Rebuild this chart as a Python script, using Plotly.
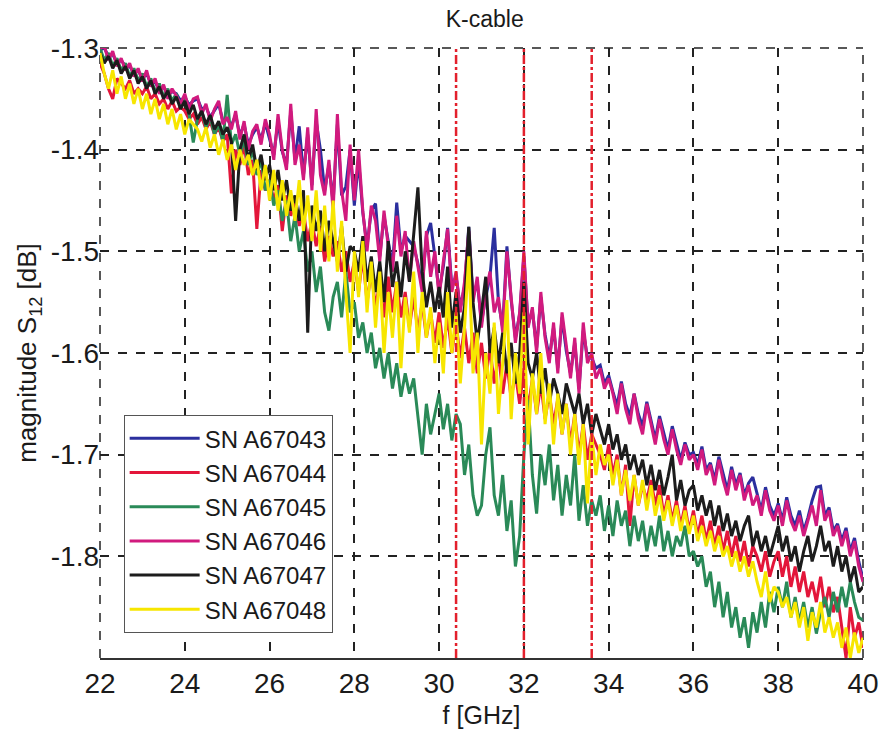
import plotly.graph_objects as go

# frequency axis: 22.0 ... 40.0 GHz in 0.1 GHz steps
freq = [round(22 + 0.1 * i, 1) for i in range(181)]

# magnitude S12 values, in milli-dB (positive = loss)
sn_a67043_mdb = [
    1302, 1300, 1308, 1306, 1315, 1312, 1318, 1318, 1325, 1322,
    1330, 1325, 1335, 1333, 1342, 1338, 1346, 1343, 1345, 1352,
    1348, 1356, 1352, 1350, 1360, 1358, 1368, 1362, 1355, 1372,
    1370, 1376, 1366, 1386, 1375, 1395, 1385, 1378, 1390, 1374,
    1390, 1405, 1372, 1402, 1415, 1362, 1410, 1377, 1425, 1385,
    1435, 1372, 1400, 1440, 1415, 1452, 1375, 1445, 1436, 1400,
    1455, 1410, 1462, 1495, 1460, 1453, 1505, 1465, 1490, 1515,
    1452, 1500, 1485, 1490, 1495, 1512, 1535, 1485, 1472, 1505,
    1540, 1515, 1477, 1535, 1525, 1555, 1535, 1476, 1545, 1530,
    1570, 1545, 1525, 1477, 1550, 1575, 1495, 1548, 1585, 1562,
    1505, 1572, 1558, 1595, 1545, 1582, 1605, 1575, 1615, 1565,
    1598, 1620, 1590, 1635, 1578, 1605, 1605, 1615, 1612, 1630,
    1622, 1638, 1652, 1628, 1650, 1662, 1640, 1660, 1672, 1648,
    1668, 1685, 1662, 1680, 1695, 1672, 1690, 1705, 1688, 1700,
    1698, 1710, 1692, 1715, 1708, 1725, 1702, 1720, 1735, 1712,
    1730, 1718, 1740, 1728, 1722, 1738, 1755, 1732, 1750, 1760,
    1748, 1765, 1742, 1760, 1770, 1755, 1775, 1762, 1745, 1732,
    1731, 1760, 1752, 1775, 1768, 1785, 1772, 1795, 1782, 1805,
    1822,
]
sn_a67044_mdb = [
    1315, 1325, 1340, 1350, 1330, 1335, 1340, 1332, 1345, 1340,
    1345, 1338, 1350, 1345, 1355, 1350, 1360, 1352, 1362, 1358,
    1362, 1370, 1365, 1375, 1368, 1380, 1372, 1385, 1378, 1392,
    1385, 1443, 1400, 1415, 1395, 1425, 1410, 1478, 1420, 1440,
    1430, 1450, 1435, 1480, 1445, 1465, 1450, 1475, 1460, 1490,
    1470, 1495, 1475, 1510, 1485, 1505, 1490, 1520, 1500, 1530,
    1510, 1540, 1505, 1550, 1520, 1555, 1530, 1565, 1525, 1560,
    1530, 1565, 1540, 1575, 1545, 1580, 1550, 1585, 1560, 1590,
    1560, 1595, 1565, 1600, 1570, 1605, 1575, 1610, 1580, 1620,
    1590, 1625, 1595, 1630, 1600, 1640, 1610, 1645, 1620, 1650,
    1615, 1655, 1625, 1660, 1630, 1665, 1640, 1670, 1645, 1680,
    1650, 1690, 1660, 1700, 1670, 1705, 1680, 1690, 1700, 1715,
    1690, 1720, 1700, 1740, 1710, 1770, 1720, 1750, 1730, 1745,
    1725, 1750, 1730, 1760, 1740, 1765, 1745, 1770, 1750, 1775,
    1755, 1780, 1760, 1785, 1765, 1790, 1770, 1795, 1775, 1800,
    1780, 1805, 1785, 1810, 1790, 1800, 1815, 1795, 1820, 1805,
    1795, 1820, 1800, 1830, 1810, 1835, 1815, 1840, 1825, 1845,
    1820, 1850, 1830, 1855, 1840, 1870, 1900, 1850, 1880, 1865,
    1890,
]
sn_a67045_mdb = [
    1300, 1312, 1305, 1318, 1310, 1322, 1315, 1328, 1320, 1332,
    1325, 1338, 1330, 1343, 1335, 1348, 1340, 1352, 1345, 1358,
    1350, 1365, 1393, 1370, 1362, 1378, 1368, 1385, 1375, 1392,
    1346, 1395, 1385, 1405, 1390, 1415, 1400, 1425, 1410, 1440,
    1430, 1455, 1440, 1470, 1450, 1490, 1465, 1500, 1480, 1520,
    1500, 1540, 1515, 1560, 1578, 1545, 1530, 1565, 1520, 1560,
    1550, 1585, 1570, 1600, 1580, 1615, 1595, 1625, 1600, 1635,
    1610, 1643, 1620, 1640, 1625, 1660, 1700, 1650, 1680, 1660,
    1640, 1675, 1650, 1686, 1660, 1670, 1720, 1690, 1740, 1760,
    1750, 1700, 1673, 1740, 1760, 1720, 1775, 1745, 1810, 1780,
    1700, 1646, 1720, 1758, 1700, 1730, 1690, 1745, 1710, 1760,
    1720, 1750, 1700, 1765, 1730, 1770, 1745, 1760, 1740, 1775,
    1750, 1780, 1745, 1770, 1755, 1790, 1760, 1785, 1765, 1795,
    1770, 1790, 1760, 1795, 1775, 1800, 1780, 1790, 1770, 1800,
    1795, 1810, 1800, 1830, 1815, 1850, 1825, 1860, 1835, 1870,
    1850, 1880, 1860, 1890, 1855, 1875, 1845, 1870, 1835, 1855,
    1830, 1850, 1825, 1860, 1840, 1865, 1845, 1870, 1850, 1876,
    1855, 1840, 1860, 1835, 1855, 1830, 1850, 1825, 1845, 1860,
    1863,
]
sn_a67046_mdb = [
    1300, 1298, 1312, 1303, 1318, 1310, 1322, 1315, 1328, 1320,
    1333, 1322, 1338, 1330, 1345, 1336, 1350, 1340, 1347, 1355,
    1345, 1360, 1350, 1348, 1365, 1355, 1372, 1360, 1352, 1375,
    1368, 1380, 1362, 1390, 1372, 1400, 1382, 1375, 1395, 1370,
    1385, 1410, 1365, 1400, 1420, 1355, 1415, 1395, 1430, 1378,
    1440, 1360, 1425, 1445, 1410, 1460, 1365, 1440, 1470, 1395,
    1450, 1400, 1460, 1500, 1455, 1470, 1510, 1460, 1495, 1520,
    1465, 1505, 1480, 1530, 1490, 1515, 1540, 1480, 1525, 1500,
    1545, 1510, 1478, 1540, 1520, 1560, 1530, 1480, 1550, 1525,
    1575, 1540, 1520, 1560, 1545, 1580, 1500, 1545, 1590, 1560,
    1500, 1575, 1555, 1600, 1540, 1585, 1610, 1570, 1620, 1560,
    1595, 1625, 1585, 1640, 1570, 1610, 1600, 1625, 1615, 1635,
    1625, 1640, 1660, 1630, 1655, 1670, 1640, 1665, 1680, 1650,
    1670, 1690, 1665, 1685, 1700, 1675, 1695, 1710, 1690, 1705,
    1700, 1715, 1695, 1720, 1710, 1730, 1705, 1725, 1740, 1715,
    1735, 1720, 1745, 1730, 1750, 1740, 1760, 1735, 1755, 1765,
    1750, 1770, 1745, 1765, 1775, 1760, 1780, 1765, 1750, 1770,
    1735, 1765, 1755, 1780, 1770, 1790, 1775, 1800, 1785, 1810,
    1825,
]
sn_a67047_mdb = [
    1305, 1315, 1308, 1320, 1312, 1325, 1318, 1330, 1322, 1335,
    1328, 1340, 1332, 1345, 1338, 1350, 1342, 1355, 1348, 1360,
    1352, 1365, 1356, 1370, 1362, 1375, 1366, 1380, 1372, 1385,
    1378, 1392, 1470, 1400, 1385, 1410, 1395, 1420, 1405, 1430,
    1415, 1440, 1420, 1450, 1430, 1460, 1445, 1470, 1440, 1580,
    1455, 1480, 1460, 1500, 1470, 1490, 1510, 1475, 1520, 1495,
    1500, 1520, 1485, 1530, 1505, 1540, 1510, 1550, 1490, 1535,
    1510, 1545, 1500, 1530, 1485, 1437, 1520, 1555, 1530, 1560,
    1535, 1565, 1515, 1575, 1540, 1580, 1555, 1476, 1550, 1590,
    1560, 1525, 1600, 1575, 1610, 1580, 1620, 1590, 1630, 1600,
    1530, 1610, 1625, 1600, 1640, 1615, 1650, 1625, 1640, 1660,
    1630, 1645, 1660, 1640, 1670, 1650, 1680, 1660, 1675, 1690,
    1670, 1695, 1680, 1705, 1690, 1715, 1700, 1720, 1705, 1730,
    1710, 1735, 1715, 1740, 1722, 1700, 1745, 1725, 1750, 1735,
    1730, 1755, 1740, 1760, 1745, 1770, 1750, 1775, 1758, 1780,
    1765, 1785, 1770, 1760, 1790, 1775, 1795, 1780, 1800, 1785,
    1770, 1795, 1780, 1805, 1790, 1815, 1795, 1780, 1805, 1790,
    1770, 1795, 1785, 1810, 1790, 1815, 1800, 1825, 1810, 1835,
    1830,
]
sn_a67048_mdb = [
    1305, 1325, 1340, 1322, 1345, 1328, 1350, 1335, 1355, 1340,
    1360, 1345, 1365, 1350, 1370, 1355, 1375, 1360, 1380, 1365,
    1385, 1370, 1375, 1380, 1392, 1378, 1398, 1385, 1405, 1390,
    1410, 1395, 1420, 1400, 1415, 1405, 1425, 1410, 1440, 1415,
    1450, 1420, 1460, 1430, 1465, 1440, 1470, 1430, 1480, 1445,
    1490, 1440, 1500, 1455, 1510, 1450, 1520, 1470, 1540, 1600,
    1500, 1545, 1490, 1560, 1510, 1575, 1520, 1600, 1540, 1585,
    1530, 1615, 1545, 1580, 1520, 1600, 1540, 1585, 1555, 1610,
    1570, 1620, 1540, 1600, 1560, 1630, 1575, 1505, 1620, 1580,
    1690, 1600, 1640, 1570, 1660, 1610, 1548, 1665, 1600, 1640,
    1560, 1690, 1620, 1660, 1600, 1670, 1630, 1690, 1640, 1680,
    1650, 1700, 1660, 1710, 1670, 1748, 1680, 1720, 1690, 1710,
    1700, 1730, 1705, 1740, 1715, 1745, 1720, 1750, 1725, 1755,
    1730, 1760, 1740, 1765, 1745, 1770, 1750, 1775, 1755, 1778,
    1760, 1785, 1770, 1790, 1775, 1795, 1780, 1800, 1790, 1810,
    1795, 1815, 1800, 1820, 1805, 1825, 1840, 1815, 1845, 1830,
    1835, 1850, 1840, 1860, 1845, 1870, 1850, 1883, 1855, 1870,
    1845, 1875, 1860, 1880, 1865, 1890, 1870, 1900, 1875, 1895,
    1880,
]

series_names = ["SN A67043", "SN A67044", "SN A67045", "SN A67046", "SN A67047", "SN A67048"]
series_mdb = [sn_a67043_mdb, sn_a67044_mdb, sn_a67045_mdb, sn_a67046_mdb, sn_a67047_mdb, sn_a67048_mdb]
series_colors = ["#2b2f9e", "#e3163a", "#2a8a58", "#d11a7e", "#1c1c1c", "#f7e600"]

marker_freqs = [30.4, 32.0, 33.6]
x_ticks = [22, 24, 26, 28, 30, 32, 34, 36, 38, 40]
y_ticks = [-1.8, -1.7, -1.6, -1.5, -1.4, -1.3]

FONT = "Liberation Sans, Arial, Helvetica, sans-serif"
GRID = "#222"

fig = go.Figure()
for name, vals, col in zip(series_names, series_mdb, series_colors):
    fig.add_trace(go.Scatter(
        x=freq, y=[-v / 1000 for v in vals], mode="lines", name=name,
        line=dict(color=col, width=3),
    ))

for f in marker_freqs:
    fig.add_vline(x=f, line=dict(color="#e3202c", width=2.5, dash="dashdot"), layer="above")

# dashed frame on top, left and right (the grid lines at the range edges)
for x0, y0, x1, y1 in [(0, 1, 1, 1), (0, 0, 0, 1), (1, 0, 1, 1)]:
    fig.add_shape(type="line", xref="paper", yref="paper", x0=x0, y0=y0, x1=x1, y1=y1,
                  line=dict(color=GRID, width=1.5, dash="dash"), layer="below")

fig.update_layout(
    width=891, height=740,
    margin=dict(l=100, r=22, t=48, b=82),
    paper_bgcolor="white", plot_bgcolor="white",
    font=dict(family=FONT, color="#1a1a1a", size=26),
    title=dict(text="K-cable", x=0.544, xanchor="center", y=0.975, yanchor="middle",
               font=dict(size=23, family=FONT, color="#1a1a1a")),
    showlegend=True,
    legend=dict(x=0.031, y=0.398, xanchor="left", yanchor="top",
                bgcolor="white", bordercolor="#555", borderwidth=1,
                font=dict(size=24, family=FONT, color="#1a1a1a"),
                tracegroupgap=0, itemwidth=70),
)
fig.update_xaxes(
    range=[22, 40], tickvals=x_ticks, ticktext=[str(t) for t in x_ticks],
    showgrid=True, gridcolor=GRID, griddash="dash", gridwidth=1.5,
    showline=True, linecolor="#333", linewidth=1.5, mirror=False,
    ticks="", zeroline=False,
    tickfont=dict(size=28, family=FONT),
    title=dict(text="f [GHz]", font=dict(size=25, family=FONT), standoff=8),
)
fig.update_yaxes(
    range=[-1.9, -1.3], tickvals=y_ticks, ticktext=[f"{t:.1f}" for t in y_ticks],
    showgrid=True, gridcolor=GRID, griddash="dash", gridwidth=1.5,
    showline=False, ticks="", zeroline=False,
    tickfont=dict(size=28, family=FONT),
    title=dict(text="magnitude S<sub>12</sub> [dB]", font=dict(size=26, family=FONT), standoff=6),
)

fig.write_html("out.html")
